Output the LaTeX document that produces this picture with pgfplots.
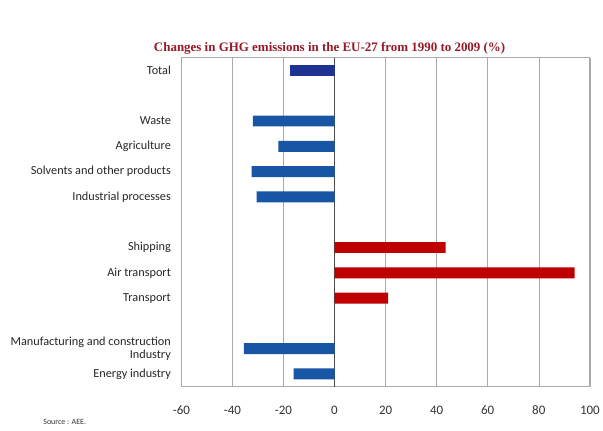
\documentclass[border=0pt]{standalone}
\usepackage{fontspec}
\setmainfont{Carlito}
\newfontfamily\titlefont{Liberation Serif}
\usepackage{pgfplots}
\pgfplotsset{compat=1.18}
\definecolor{navybar}{RGB}{30,50,145}
\definecolor{bluebar}{RGB}{25,85,165}
\definecolor{redbar}{RGB}{190,0,0}
\definecolor{titlered}{RGB}{150,25,40}
\definecolor{gridgray}{RGB}{170,170,170}
\begin{document}
\begin{tikzpicture}
\begin{axis}[
  scale only axis,
  width=410bp, height=330bp,
  xmin=-60, xmax=100,
  ymin=-0.5, ymax=12.5,
  xtick={-60,-40,...,100},
  ytick={0,1,3,4,5,7,8,9,10,12},
  yticklabels={Energy industry,{Manufacturing and construction\\Industry},Transport,Air transport,Shipping,Industrial processes,Solvents and other products,Agriculture,Waste,Total},
  yticklabel style={align=right, font=\fontsize{12.3bp}{13.5bp}\selectfont, text=black!85, xshift=-7bp},
  xticklabel style={font=\fontsize{13bp}{14bp}\selectfont, text=black!80, yshift=-16bp},
  /pgf/number format/assume math mode=true,
  major tick length=0pt,
  xmajorgrids, major grid style={gridgray, line width=0.5pt},
  axis line style={gridgray, line width=0.8pt},
  xbar, bar width=11bp, bar shift=0pt,
  title={\titlefont\bfseries Changes in GHG emissions in the EU-27 from 1990 to 2009 (\%)},
  title style={font=\fontsize{13bp}{15bp}\selectfont, text=titlered, at={(axis description cs:0.363,1)}, anchor=base, yshift=0bp},
  clip=false,
]
\draw[black!70, line width=0.6pt] (axis cs:0,-0.5) -- (axis cs:0,12.5);
\addplot[draw=none, fill=navybar] coordinates {(-17.4,12)};
\addplot[draw=none, fill=bluebar] coordinates {(-32,10) (-22,9) (-32.5,8) (-30.5,7) (-35.5,1) (-16,0)};
\addplot[draw=none, fill=redbar] coordinates {(43.5,5) (94,4) (21,3)};
\end{axis}
\path (current axis.south west) ++(-182bp,-44bp) coordinate (bbsw);
\path (current axis.north east) ++(11bp,58bp) coordinate (bbne);
\useasboundingbox (bbsw) rectangle (bbne);
\node[anchor=base west, font=\fontsize{8bp}{9bp}\selectfont, text=black!80] at ([shift={(-142bp,-38bp)}]current axis.south west) {Source : AEE.};
\end{tikzpicture}
\end{document}
